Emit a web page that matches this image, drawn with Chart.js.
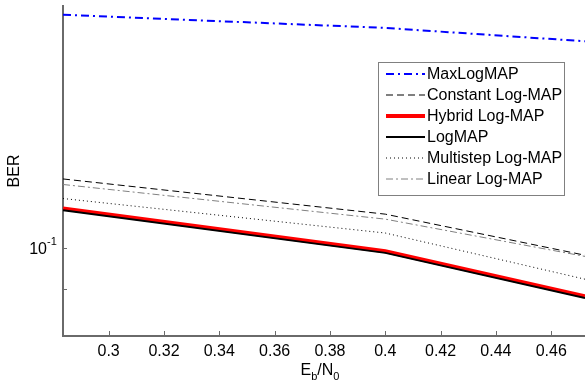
<!DOCTYPE html>
<html lang="en">
<head>
    <meta charset="UTF-8">
    <title>BER x Eb/N0</title>
    <script src="https://cdn.jsdelivr.net/npm/chart.js"></script>
    <style>
        html, body { margin: 0; padding: 0; background: #fff; }
    </style>
</head>
<body>
    <canvas id="grafico" width="585" height="385"></canvas>
    <script>
        // valores
        var ebno = [0.2835, 0.4, 0.4722];
        var maxLogMap = [0.1828, 0.1767, 0.1707];
        var constantLogMap = [0.1196, 0.1092, 0.0982];
        var hybridLogMap = [0.1108, 0.0992, 0.0883];
        var logMap = [0.1103, 0.0988, 0.0879];
        var multistepLogMap = [0.1137, 0.1040, 0.0923];
        var linearLogMap = [0.1179, 0.1078, 0.0979];

        var xTicks = [0.3, 0.32, 0.34, 0.36, 0.38, 0.4, 0.42, 0.44, 0.46];
        var yTicks = [0.08, 0.09, 0.1];
        var yMajor = 0.1;

        var fonte = "'Liberation Sans', Arial, sans-serif";
        var cinzaEixo = "#6a6a6a";

        function pontos(valores) {
            var lista = [];
            for (var i = 0; i < ebno.length; i++) {
                lista.push({ x: ebno[i], y: valores[i] });
            }
            return lista;
        }

        function serie(label, valores, cor, largura, tracejado, ordem) {
            return {
                label: label,
                data: pontos(valores),
                borderColor: cor,
                borderWidth: largura,
                borderDash: tracejado,
                borderCapStyle: "butt",
                pointRadius: 0,
                tension: 0,
                fill: false,
                order: ordem
            };
        }

        var extras = {
            id: "extras",
            afterDraw: function (chart) {
                var ctx = chart.ctx;
                var area = chart.chartArea;
                var sx = chart.scales.x;
                var sy = chart.scales.y;

                ctx.save();
                // ticks para dentro
                ctx.strokeStyle = cinzaEixo;
                ctx.lineWidth = 1;
                ctx.beginPath();
                for (var i = 0; i < xTicks.length; i++) {
                    var px = Math.round(sx.getPixelForValue(xTicks[i])) + 0.5;
                    ctx.moveTo(px, area.bottom);
                    ctx.lineTo(px, area.bottom - 5);
                }
                for (var j = 0; j < yTicks.length; j++) {
                    var py = Math.round(sy.getPixelForValue(yTicks[j])) + 0.5;
                    ctx.moveTo(area.left, py);
                    ctx.lineTo(area.left + 4, py);
                }
                ctx.stroke();

                // rotulo 10^-1
                ctx.fillStyle = "#000";
                var yMaj = sy.getPixelForValue(yMajor);
                ctx.font = "16px " + fonte;
                ctx.textAlign = "right";
                ctx.textBaseline = "middle";
                ctx.fillText("10", 47, yMaj + 1);
                ctx.font = "11px " + fonte;
                ctx.textAlign = "left";
                ctx.fillText("-1", 47, yMaj - 6);

                // titulo eixo y
                ctx.save();
                ctx.translate(15, (area.top + area.bottom) / 2);
                ctx.rotate(-Math.PI / 2);
                ctx.font = "16px " + fonte;
                ctx.textAlign = "center";
                ctx.textBaseline = "middle";
                ctx.fillText("BER", 0, 0);
                ctx.restore();

                // titulo eixo x: Eb/N0
                var partes = [["E", 16, 0], ["b", 11, 5], ["/N", 16, 0], ["0", 11, 5]];
                var total = 0;
                for (var k = 0; k < partes.length; k++) {
                    ctx.font = partes[k][1] + "px " + fonte;
                    total += ctx.measureText(partes[k][0]).width;
                }
                var cx = (area.left + area.right) / 2 - total / 2 - 4;
                ctx.textAlign = "left";
                ctx.textBaseline = "alphabetic";
                for (var m = 0; m < partes.length; m++) {
                    ctx.font = partes[m][1] + "px " + fonte;
                    ctx.fillText(partes[m][0], cx, 375 + partes[m][2]);
                    cx += ctx.measureText(partes[m][0]).width;
                }

                // legenda
                var lx = 378.5, ly = 62.5, lw = 186, lh = 133;
                ctx.fillStyle = "#fff";
                ctx.fillRect(lx, ly, lw, lh);
                ctx.strokeStyle = "#808080";
                ctx.lineWidth = 1;
                ctx.setLineDash([]);
                ctx.strokeRect(lx, ly, lw, lh);

                var sets = chart.data.datasets;
                ctx.font = "16px " + fonte;
                ctx.textBaseline = "middle";
                for (var n = 0; n < sets.length; n++) {
                    var yy = 74 + n * 21;
                    ctx.strokeStyle = sets[n].borderColor;
                    ctx.lineWidth = sets[n].borderWidth;
                    ctx.setLineDash(sets[n].borderDash);
                    ctx.beginPath();
                    ctx.moveTo(386, yy);
                    ctx.lineTo(425, yy);
                    ctx.stroke();
                    ctx.setLineDash([]);
                    ctx.fillStyle = "#000";
                    ctx.fillText(sets[n].label, 427, yy + 1);
                }
                ctx.restore();
            }
        };

        var data = {
            datasets: [
                serie("MaxLogMAP", maxLogMap, "#0000ff", 2, [8, 4, 2, 4], 1),
                serie("Constant Log-MAP", constantLogMap, "#000000", 1, [7, 4], 1),
                serie("Hybrid Log-MAP", hybridLogMap, "#ff0000", 4, [], 1),
                serie("LogMAP", logMap, "#000000", 2, [], 0),
                serie("Multistep Log-MAP", multistepLogMap, "#000000", 1, [1, 3], 1),
                serie("Linear Log-MAP", linearLogMap, "#808080", 1, [7, 3, 2, 3], 1)
            ]
        };

        var config = {
            type: "line",
            data: data,
            plugins: [extras],
            options: {
                responsive: false,
                animation: false,
                devicePixelRatio: 1,
                layout: { padding: { top: 6, right: 0, bottom: 0, left: 0 } },
                plugins: {
                    legend: { display: false },
                    tooltip: { enabled: false }
                },
                scales: {
                    x: {
                        type: "linear",
                        min: ebno[0],
                        max: ebno[ebno.length - 1],
                        afterBuildTicks: function (s) {
                            s.ticks = xTicks.map(function (v) { return { value: v }; });
                        },
                        afterFit: function (s) { s.height = 49; },
                        grid: { display: false, drawTicks: false },
                        border: { display: true, color: cinzaEixo, width: 2 },
                        ticks: {
                            color: "#000",
                            font: { family: fonte, size: 16 },
                            padding: 6,
                            maxRotation: 0,
                            autoSkip: false,
                            callback: function (v) { return String(v); }
                        }
                    },
                    y: {
                        type: "logarithmic",
                        min: 0.0797,
                        max: 0.187,
                        afterBuildTicks: function (s) {
                            s.ticks = yTicks.map(function (v) { return { value: v }; });
                        },
                        afterFit: function (s) { s.width = 63; },
                        grid: { display: false, drawTicks: false },
                        border: { display: true, color: cinzaEixo, width: 2 },
                        ticks: { display: false }
                    }
                }
            }
        };

        new Chart(document.getElementById("grafico"), config);
    </script>
</body>
</html>
